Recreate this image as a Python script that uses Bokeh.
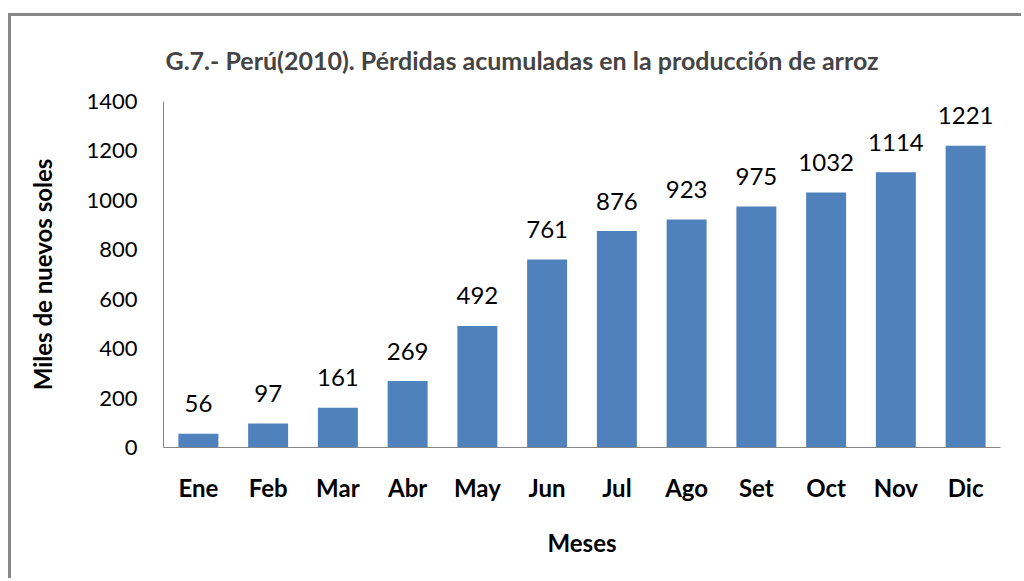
from bokeh.plotting import figure
from bokeh.models import ColumnDataSource, FactorRange, Range1d, FixedTicker
from bokeh.embed import file_html
from bokeh.resources import INLINE

months = ["Ene", "Feb", "Mar", "Abr", "May", "Jun", "Jul", "Ago", "Set", "Oct", "Nov", "Dic"]
values = [56, 97, 161, 269, 492, 761, 876, 923, 975, 1032, 1114, 1221]
y_ticks = [0, 200, 400, 600, 800, 1000, 1200, 1400]

title = "G.7.- Perú(2010). Pérdidas acumuladas en la producción de arroz"
x_title = "Meses"
y_title = "Miles de nuevos soles"

FONT = "Lato"
src = ColumnDataSource(dict(m=months, v=values, t=[str(v) for v in values]))

p = figure(x_range=FactorRange(*months, range_padding=0), y_range=Range1d(0, 1400),
           width=1013, height=565, output_backend="svg", toolbar_location=None,
           min_border_left=152, min_border_right=24, min_border_top=84, min_border_bottom=134)
p.styles = {"border-left": "3px solid #878787", "border-top": "3px solid #878787",
            "margin-top": "13px", "margin-left": "8px"}

p.title.text = title
p.title.text_font = FONT
p.title.text_font_size = "25px"
p.title.text_font_style = "bold"
p.title.align = "left"
p.title.offset = 2
p.title.vertical_align = "bottom"
p.title.standoff = 53

p.vbar(x="m", top="v", width=0.573, source=src, fill_color="#4F81BD", line_color=None)
p.text(x="m", y="v", text="t", source=src, text_align="center", text_baseline="alphabetic",
       y_offset=-30, text_font_size="24px", text_color="#000000", text_font={"value": FONT})

p.grid.visible = False
p.outline_line_color = None
p.background_fill_color = "white"
p.border_fill_color = "white"

for ax in (p.xaxis[0], p.yaxis[0]):
    ax.axis_line_color = "#868686"
    ax.axis_line_width = 1
    ax.major_tick_line_color = None
    ax.minor_tick_line_color = None
    ax.major_tick_out = 0
    ax.major_tick_in = 0
    ax.major_label_text_font = FONT
    ax.axis_label_text_font = FONT
    ax.axis_label_text_font_style = "bold"
    ax.axis_label_text_color = "#000000"
    ax.major_label_text_color = "#000000"

p.yaxis.ticker = FixedTicker(ticks=y_ticks)
p.yaxis.major_label_text_font_size = "22px"
p.yaxis.major_label_standoff = 26
p.yaxis.axis_label = y_title
p.yaxis.axis_label_text_font_size = "24px"
p.yaxis.axis_label_standoff = 26

p.xaxis.major_label_text_font_size = "24px"
p.xaxis.major_label_text_font_style = "bold"
p.xaxis.major_label_standoff = 25
p.xaxis.axis_label = x_title
p.xaxis.axis_label_text_font_size = "24px"
p.xaxis.axis_label_standoff = 23

open("out.html", "w").write(file_html(p, INLINE))
